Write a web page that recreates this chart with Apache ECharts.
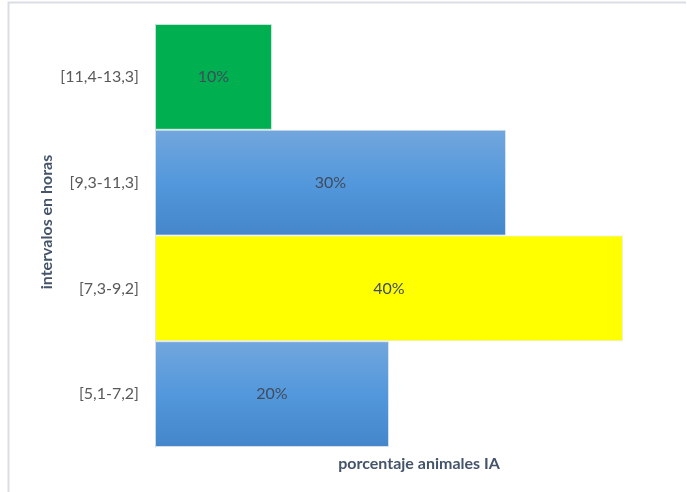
<!DOCTYPE html>
<html>
<head>
<meta charset="utf-8">
<script src="https://cdn.jsdelivr.net/npm/echarts@6/dist/echarts.min.js"></script>
<style>
html,body{margin:0;padding:0;background:#fff;}
#chart{width:687px;height:492px;}
</style>
</head>
<body>
<div id="chart"></div>
<script>
// Data
var categories = ['[5,1-7,2]', '[7,3-9,2]', '[9,3-11,3]', '[11,4-13,3]'];
var values = [20, 40, 30, 10];
var xAxisTitle = 'porcentaje animales IA';
var yAxisTitle = 'intervalos en horas';

var blueGrad = new echarts.graphic.LinearGradient(0, 0, 0, 1, [
  {offset: 0, color: '#72A6DD'},
  {offset: 0.5, color: '#5398DC'},
  {offset: 1, color: '#4486C9'}
]);
function barColor(idx) {
  var v = values[idx];
  if (v === 40) return '#FFFF00';
  if (v === 10) return '#00B050';
  return blueGrad;
}

var chart = echarts.init(document.getElementById('chart'), null, {renderer: 'canvas'});
chart.setOption({
  animation: false,
  backgroundColor: '#ffffff',
  textStyle: {fontFamily: 'Lato, "Liberation Sans", sans-serif'},
  grid: {left: 155, right: 64, top: 24, bottom: 45, containLabel: false},
  xAxis: {
    type: 'value',
    min: 0,
    max: 40,
    show: false
  },
  yAxis: {
    type: 'category',
    data: categories,
    axisLine: {show: true, lineStyle: {color: '#D9D9D9', width: 1}},
    axisTick: {show: false},
    axisLabel: {color: '#595959', fontSize: 16, margin: 16, fontFamily: 'Lato, sans-serif'}
  },
  series: [{
    type: 'bar',
    data: values,
    barCategoryGap: '0%',
    itemStyle: {
      color: function (p) { return barColor(p.dataIndex); },
      borderColor: 'rgba(230,235,240,0.7)',
      borderWidth: 1
    },
    label: {
      show: true,
      position: 'inside',
      formatter: '{c}%',
      color: '#404B5C',
      fontSize: 16,
      fontFamily: 'Lato, sans-serif'
    }
  }],
  graphic: [
    {
      type: 'polyline',
      shape: {points: [[8.5, 492], [8.5, 2.5], [686, 2.5]]},
      style: {stroke: '#D9DEE6', lineWidth: 2, fill: null},
      silent: true
    },
    {
      type: 'text',
      x: 419,
      y: 464,
      style: {
        text: xAxisTitle,
        fill: '#44546A',
        font: 'bold 16px Lato, sans-serif',
        align: 'center',
        verticalAlign: 'middle'
      }
    },
    {
      type: 'text',
      x: 47,
      y: 222,
      rotation: Math.PI / 2,
      style: {
        text: yAxisTitle,
        fill: '#44546A',
        font: 'bold 16px Lato, sans-serif',
        align: 'center',
        verticalAlign: 'middle'
      }
    }
  ]
});
</script>
</body>
</html>
